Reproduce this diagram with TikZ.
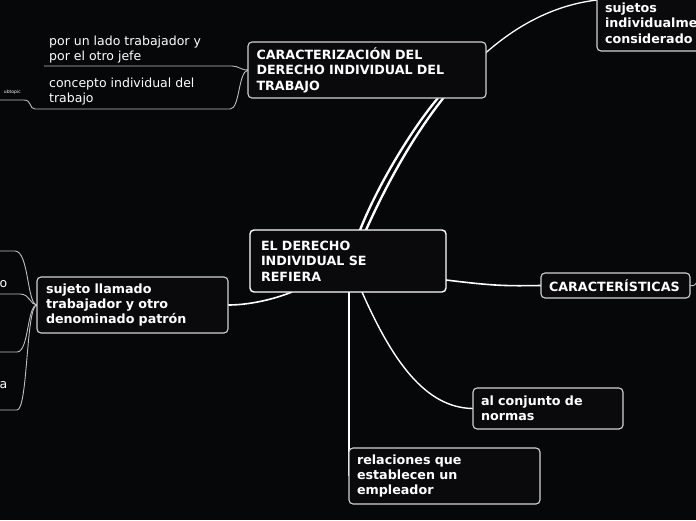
\documentclass[tikz,border=0pt]{standalone}
\usepackage{fontspec}
\setmainfont{DejaVu Sans}
\usetikzlibrary{calc}
\definecolor{bg}{HTML}{060709}
\definecolor{boxfill}{HTML}{0A0A0C}
\definecolor{edge}{HTML}{D2D2D2}
\definecolor{linegray}{HTML}{BEBEBE}
\begin{document}
\begin{tikzpicture}[x=1pt,y=-1pt,
  topic/.style={draw=edge, line width=1.1pt, fill=boxfill, rounded corners=4pt, text=white,
    font=\bfseries\fontsize{12.7}{15.4}\selectfont, align=left, anchor=north west,
    inner xsep=8pt, inner ysep=0pt, outer sep=0pt},
  sub/.style={text=white, font=\fontsize{12.5}{15}\selectfont, align=left, inner sep=0pt},
  thickline/.style={draw=white, line width=2.3pt},
  thinline/.style={draw=linegray, line width=0.9pt}]
\useasboundingbox (0,0) rectangle (696,520);
\fill[bg] (0,0) rectangle (696,520);
\clip (0,0) rectangle (696,520);

% nodes (placed first so connectors can use names; boxes redrawn on top via layers)
\begin{scope}[opacity=0]
\node[topic, text width=174pt, inner xsep=11pt, minimum height=62pt] (ctr) at (250,230) {EL DERECHO\\INDIVIDUAL SE\\REFIERA};
\node[topic, text width=221pt, inner xsep=8.5pt, minimum height=56pt] (cz) at (248,42) {CARACTERIZACIÓN DEL\\DERECHO INDIVIDUAL DEL\\TRABAJO};
\node[topic, text width=160pt, minimum height=56pt] (suj) at (597,-5) {sujetos\\individualme\\considerado};
\node[topic, text width=133pt, minimum height=25pt] (carac) at (541,273) {CARACTERÍSTICAS};
\node[topic, text width=134pt, minimum height=41pt] (conj) at (473,388) {al conjunto de\\normas};
\node[topic, text width=175pt, minimum height=56pt] (rel) at (349,448) {relaciones que\\establecen un\\empleador};
\node[topic, text width=173pt, inner xsep=9pt, minimum height=56pt] (sjt) at (37,277) {sujeto llamado\\trabajador y otro\\denominado patrón};
\end{scope}

% free ends
\coordinate (e1) at (44,66);
\coordinate (e2) at (0,100);
\coordinate (l1) at (0,251);
\coordinate (l2) at (0,294);
\coordinate (l3) at (0,352);
\coordinate (l4) at (0,410);
\coordinate (r1) at (697,282);

% connectors from the centre
\draw[thickline] ($(ctr.north west)+(110,0)$) .. controls (380,180) and (415,125) .. ($(cz.south west)+(190,0)$);
\begin{scope}
\clip (0,98) rectangle (696,520);
\draw[thickline] ($(ctr.north west)+(116,0)$) .. controls (420,110) and (495,12) .. ($(suj.north west)+(0,5)$);
\end{scope}
\draw[draw=white, line width=1.3pt] ($(ctr.north west)+(116,0)$) .. controls (420,110) and (495,12) .. ($(suj.north west)+(0,5)$);
\draw[draw=white, line width=1.6pt] ($(ctr.north east)+(0,50)$) .. controls (495,286) and (505,286) .. (carac.west);
\draw[draw=white, line width=1.4pt] ($(ctr.south west)+(112,0)$) .. controls (392,360) and (425,408) .. (conj.west);
\draw[draw=white, line width=2pt] ($(ctr.south west)+(98.5,0)$) -- ($(rel.west)+(-0.5,0)$);
\draw[draw=white, line width=1.6pt] ($(ctr.south west)+(42,0)$) .. controls (272,300) and (248,305) .. (sjt.east);

% subtopic connectors
\draw[thinline] (cz.west) .. controls (240,70) and (239,66) .. (232,66) -- (e1);
\draw[thinline] (cz.west) .. controls (238,72) and (240,109) .. (230,109) -- (35,109) .. controls (29,109) and (32,100) .. (24,100) -- (e2);
\draw[thinline] (sjt.west) .. controls (27,305) and (29,251) .. (15,251) -- (l1);
\draw[thinline] (sjt.west) .. controls (30,305) and (30,294) .. (20,294) -- (l2);
\draw[thinline] (sjt.west) .. controls (27,305) and (29,352) .. (17,352) -- (l3);
\draw[thinline] (sjt.west) .. controls (26,305) and (28,410) .. (17,410) -- (l4);
\draw[thinline] (carac.east) .. controls (694,286) .. (r1);

% visible boxes
\node[topic, draw=white, line width=1.4pt, text width=174pt, inner xsep=11pt, minimum height=62pt] at (250,230) {EL DERECHO\\INDIVIDUAL SE\\REFIERA};
\node[topic, text width=221pt, inner xsep=8.5pt, minimum height=56pt] at (248,42) {CARACTERIZACIÓN DEL\\DERECHO INDIVIDUAL DEL\\TRABAJO};
\node[topic, text width=160pt, minimum height=56pt] at (597,-5) {sujetos\\individualme\\considerado};
\node[topic, text width=133pt, minimum height=25pt] at (541,273) {CARACTERÍSTICAS};
\node[topic, text width=134pt, minimum height=41pt] at (473,388) {al conjunto de\\normas};
\node[topic, text width=175pt, minimum height=56pt] at (349,448) {relaciones que\\establecen un\\empleador};
\node[topic, text width=173pt, inner xsep=9pt, minimum height=56pt] at (37,277) {sujeto llamado\\trabajador y otro\\denominado patrón};

% subtopic texts
\node[sub, anchor=west] (t1) at (49,49.5) {por un lado trabajador y\\por el otro jefe};
\node[sub, anchor=west] (t2) at (49,91.5) {concepto individual del\\trabajo};
\node[sub, anchor=east] (t3) at (7.5,284) {o};
\node[sub, anchor=east] (t4) at (7.5,385) {a};
\node[text=white, font=\fontsize{4.5}{5}\selectfont, inner sep=0pt, anchor=east] (t5) at (21,92) {ubtopic};
\end{tikzpicture}
\end{document}
